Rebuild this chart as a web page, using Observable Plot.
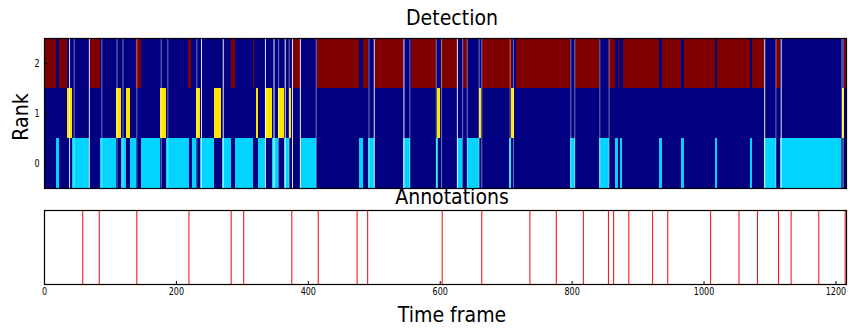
<!DOCTYPE html>
<html>
<head>
<meta charset="utf-8">
<script src="https://cdn.jsdelivr.net/npm/d3@7"></script>
<script src="https://cdn.jsdelivr.net/npm/@observablehq/plot@0.6"></script>
<style>
  html, body { margin: 0; padding: 0; background: #fff; }
  #wrap { position: relative; width: 850px; height: 328px; overflow: hidden; font-family: "DejaVu Sans", sans-serif; }
  #wrap svg { position: absolute; left: 0; }
  .lbl { position: absolute; font-size: 22px; line-height: 22px; color: #000; white-space: nowrap; }
</style>
</head>
<body>
<div id="wrap"></div>
<script>
// ---------- data ----------
const nFrames = 1216;
const rankTicks = [0, 1, 2];
const frameTicks = [0, 200, 400, 600, 800, 1000, 1200];

// rank 2 (top row): dark-red runs [start, end] in frames
const rank2Red = [[0,18],[23,35],[69,85],[140,147],[219,223],[284,289],[317,318],[376,388],[414,477],[483,491],
  [500,545],[556,595],[602,626],[635,641],[664,709],[716,798],[805,841],[856,866],[870,872],[878,933],
  [937,966],[970,1018],[1021,1070],[1074,1092],[1110,1116],[1213,1216]];
// rank 1 (middle row): yellow runs
const rank1Yellow = [[35,42],[109,117],[125,130],[176,185],[231,236],[257,269],[322,324],[335,346],[355,364],
  [371,375],[596,600],[659,662],[708,712],[1210,1213]];
// rank 0 (bottom row): cyan runs
const rank0Cyan = [[18,23],[43,68],[85,109],[117,125],[130,139],[147,176],[185,220],[224,231],[236,257],[270,284],
  [289,317],[324,335],[346,355],[364,371],[388,412],[477,483],[491,500],[545,555],[594,597],[626,634],[641,659],
  [705,708],[798,805],[841,856],[866,870],[873,876],[933,937],[966,970],[1018,1020],[1070,1073],[1092,1110],[1116,1208]];
// missing frames (drawn as pale full-height lines)
const gapBright = [38,68,238,271,335,348,365,376,388,500,545,626,1092,1117];
const gapFaint = [45,87,110,119,140,177,187,231,355,371,412,492,554,594,602,634,641,659,663,706,711,798,804,842,856,1109,1209,1211];

// annotation frames
const annotations = [58,83,140,219,283,302,375,415,474,490,603,663,736,776,817,855,863,886,922,945,1010,1053,1081,1113,1132,1174,1214];

// ---------- build table ----------
const cells = [
  ...rank2Red.map(([a,b]) => ({x1:a, x2:b, rank:2, c:"red"})),
  ...rank1Yellow.map(([a,b]) => ({x1:a, x2:b, rank:1, c:"yellow"})),
  ...rank0Cyan.map(([a,b]) => ({x1:a, x2:b, rank:0, c:"cyan"}))
];
const colorOf = {red:"#800000", yellow:"#ffe600", cyan:"#00d4ff"};

const wrapEl = document.getElementById("wrap");
const fontFam = "DejaVu Sans, sans-serif";
const squeeze = 0.86;

const topPlot = Plot.plot({
  width: 850, height: 190,
  marginLeft: 44, marginRight: 4, marginTop: 38, marginBottom: 2,
  style: {fontFamily: fontFam, fontSize: "10px", background: "transparent"},
  x: {domain: [0, nFrames], axis: null},
  y: {domain: [-0.5, 2.5]},
  marks: [
    Plot.rect([{x1:0, x2:nFrames}], {x1:"x1", x2:"x2", y1:-0.5, y2:2.5, fill:"#000080"}),
    Plot.rect(cells, {x1:"x1", x2:"x2", y1: d => d.rank - 0.5, y2: d => d.rank + 0.5, fill: d => colorOf[d.c], shapeRendering:"crispEdges"}),
    Plot.ruleX(gapFaint, {stroke:"white", strokeOpacity:0.45, strokeWidth:1}),
    Plot.ruleX(gapBright, {stroke:"white", strokeOpacity:0.9, strokeWidth:1}),
    Plot.axisY(rankTicks, {tickSize:-3, tickPadding:8, tickFormat: d3.format("d"), label:null, fontSize:10}),
    Plot.frame({stroke:"black", strokeWidth:1.2})
  ]
});
topPlot.style.top = "0px";
wrapEl.appendChild(topPlot);

const botPlot = Plot.plot({
  width: 850, height: 100,
  marginLeft: 44, marginRight: 4, marginTop: 10, marginBottom: 16,
  style: {fontFamily: fontFam, fontSize: "10px", background: "transparent"},
  x: {domain: [0, nFrames]},
  y: {domain: [0, 1], axis: null},
  marks: [
    Plot.ruleX(annotations, {stroke:"#ff0000", strokeWidth:1}),
    Plot.axisX(frameTicks, {tickSize:-3, tickPadding:6, tickFormat: d3.format("d"), label:null, fontSize:10}),
    Plot.frame({stroke:"black", strokeWidth:1.2})
  ]
});
botPlot.style.top = "200px";
wrapEl.appendChild(botPlot);

// horizontally condensed tick labels, like the reference rendering
for (const svg of [topPlot, botPlot]) {
  svg.querySelectorAll("text").forEach(t => {
    const w = t.getComputedTextLength();
    if (w > 0) {
      t.setAttribute("textLength", (w * 0.8).toFixed(2));
      t.setAttribute("lengthAdjust", "spacingAndGlyphs");
    }
  });
}

function addLabel(text, x, y, rotate) {
  const d = document.createElement("div");
  d.className = "lbl";
  d.textContent = text;
  d.style.left = x + "px";
  d.style.top = y + "px";
  d.style.transform = "translate(-50%, -50%)" + (rotate ? " rotate(-90deg)" : "") + " scaleX(" + squeeze + ")";
  wrapEl.appendChild(d);
}
addLabel("Detection", 452, 18);
addLabel("Annotations", 452, 197);
addLabel("Time frame", 452, 315);
addLabel("Rank", 21, 117, true);
</script>
</body>
</html>
